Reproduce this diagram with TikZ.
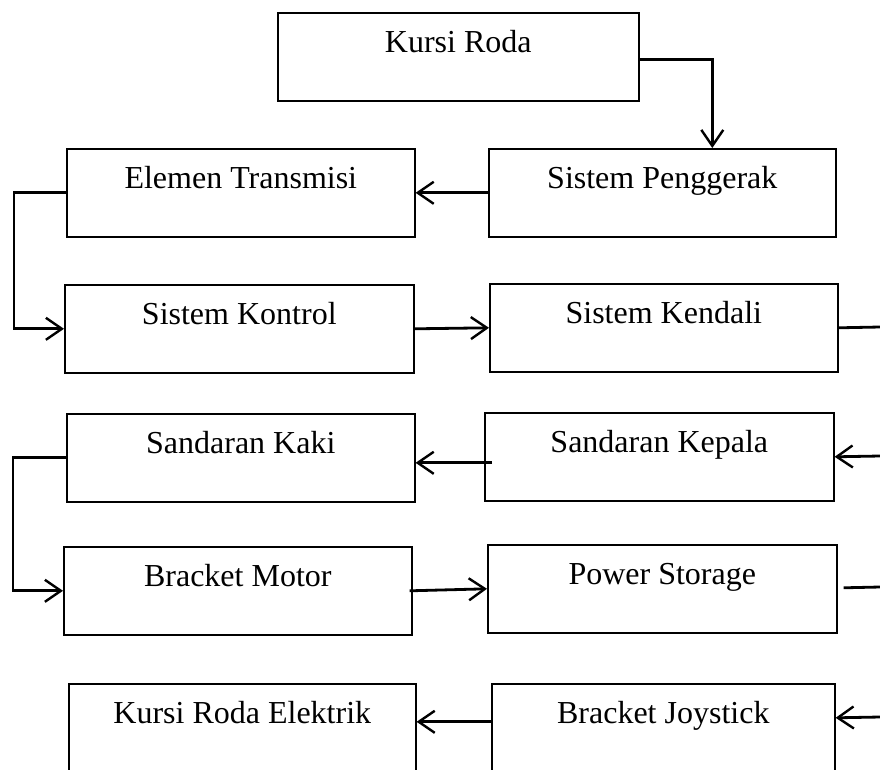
\documentclass[tikz,border=0pt]{standalone}
\usepackage{fontspec}
\setmainfont{Liberation Serif}
\usetikzlibrary{arrows.meta}
\begin{document}
\begin{tikzpicture}[x=1pt,y=-1pt,
  blok/.style={draw, line width=1.6pt, anchor=north west, inner sep=0pt,
    minimum height=88pt, text height=22pt, text depth=30pt,
    font=\fontsize{32}{37}\selectfont},
  conn/.style={line width=2.8pt, -{Straight Barb[length=16pt,width=22pt,line width=2.4pt]}},
  plain/.style={line width=2.8pt}]
\useasboundingbox (0,0) rectangle (880,769);
\clip (0,0) rectangle (880,769);

% boxes
\node[blok, minimum width=361pt] (kr) at (277,12) {Kursi Roda};
\node[blok, minimum width=347pt] (sp) at (488,148) {Sistem Penggerak};
\node[blok, minimum width=348pt] (et) at (66,148) {Elemen Transmisi};
\node[blok, minimum width=349pt] (sk) at (64,284) {Sistem Kontrol};
\node[blok, minimum width=348pt] (kd) at (489,283) {Sistem Kendali};
\node[blok, minimum width=349pt] (kp) at (484,412) {Sandaran Kepala};
\node[blok, minimum width=348pt] (kk) at (66,413) {Sandaran Kaki};
\node[blok, minimum width=348pt] (bm) at (63,546) {Bracket Motor};
\node[blok, minimum width=349pt] (ps) at (487,544) {Power Storage};
\node[blok, minimum width=343pt] (bj) at (491,683) {Bracket Joystick};
\node[blok, minimum width=347pt] (ke) at (68,683) {Kursi Roda Elektrik};

% free ends at the right margin
\coordinate (r1) at (880,327);
\coordinate (r2) at (880,456);
\coordinate (r3) at (880,587);
\coordinate (r4) at (880,717);

% connectors
\draw[conn] ([yshift=-3pt]kr.east) -| ([xshift=50pt]sp.north);
\draw[conn] (sp.west) -- (et.east);
\draw[conn] (et.west) -- ++(-52,0) |- (sk.west);
\draw[conn] (sk.east) -- (kd.west);
\draw[plain] (kd.east) -- (r1);
\draw[conn] (r2) -- (kp.east);
\draw[conn] ([xshift=8pt,yshift=-6pt]kp.west) -- ([yshift=-5pt]kk.east);
\draw[conn] (kk.west) -- ++(-53,0) |- (bm.west);
\draw[conn] ([xshift=-3pt]bm.east) -- (ps.west);
\draw[plain] ([xshift=6pt,yshift=1pt]ps.east) -- (r3);
\draw[conn] (r4) -- ([yshift=10pt]bj.east);
\draw[conn] ([yshift=6pt]bj.west) -- ([yshift=6pt]ke.east);
\end{tikzpicture}
\end{document}
